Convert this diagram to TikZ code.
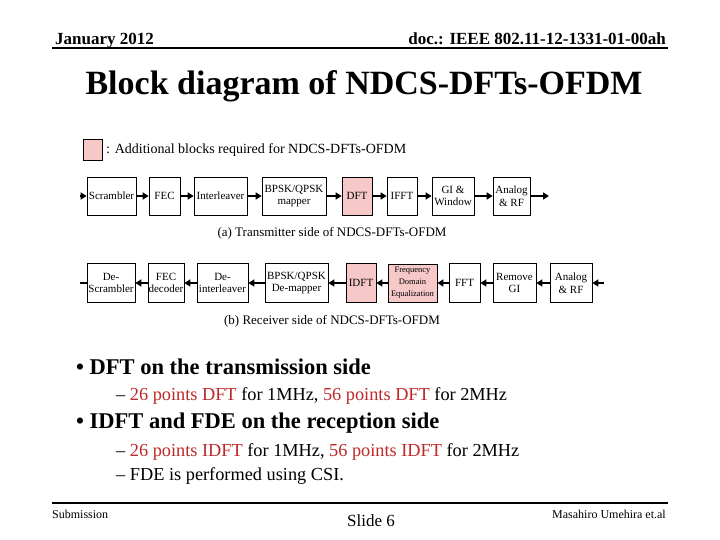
\documentclass[tikz,border=0pt]{standalone}
\usepackage{fontspec}
\setmainfont{Liberation Serif}
\usetikzlibrary{arrows.meta}
\definecolor{pk}{RGB}{246,200,200}
\definecolor{rd}{RGB}{190,40,40}
\begin{document}
\begin{tikzpicture}[x=1pt,y=-1pt,
 blk/.style={draw,line width=0.7pt,inner sep=0pt,align=center,font=\fontsize{11}{12.5}\selectfont},
 pkb/.style={blk,fill=pk},
 ar/.style={line width=1.8pt,-{Triangle[length=6pt,width=7pt]}},
 ln/.style={line width=1.8pt}]
\useasboundingbox (0,0) rectangle (720,540);
\fill[white] (0,0) rectangle (720,540);
\node[anchor=base west,inner sep=0pt,font=\bfseries\fontsize{17}{18}\selectfont] (hl) at (55,45) {January 2012};
\node[anchor=base east,inner sep=0pt,font=\bfseries\fontsize{17}{18}\selectfont] (hr) at (666,45) {doc.: IEEE 802.11-12-1331-01-00ah};
\draw[line width=1.5pt] (52,48) -- (668,48);
\node[font=\bfseries\fontsize{34}{38}\selectfont] (title) at (364,86) {Block diagram of NDCS-DFTs-OFDM};
% legend
\node[pkb,minimum width=19pt,minimum height=21pt] (leg) at (92.5,149.5) {};
\node[anchor=west,font=\fontsize{14}{15}\selectfont,inner sep=0pt] (legt) at (106,150) {: Additional blocks required for NDCS-DFTs-OFDM};
% transmitter
\def\bx#1#2#3#4#5{\node[#2,minimum width=#4-#3,minimum height=38] (#1) at ({(#3+#4)/2},196) {#5};}
\coordinate (tin) at (80,196);
\bx{s}{blk}{87}{136}{Scrambler}
\bx{f}{blk}{149}{180}{FEC}
\bx{i}{blk}{194}{247}{Interleaver}
\bx{m}{blk}{262}{326}{BPSK/QPSK\\mapper}
\bx{d}{pkb}{342}{372}{DFT}
\bx{ff}{blk}{387}{417}{IFFT}
\bx{g}{blk}{432}{474}{GI \&\\Window}
\bx{a}{blk}{493}{530}{Analog\\\& RF}
\coordinate (tout) at (549,196);
\draw[ar] (tin)--(s); \draw[ar] (s)--(f); \draw[ar] (f)--(i); \draw[ar] (i)--(m);
\draw[ar] (m)--(d); \draw[ar] (d)--(ff); \draw[ar] (ff)--(g); \draw[ar] (g)--(a); \draw[ar] (a)--(tout);
\node[font=\fontsize{13}{14}\selectfont] (ca) at (332,233) {(a) Transmitter side of NDCS-DFTs-OFDM};
% receiver
\def\rx#1#2#3#4#5{\node[#2,minimum width=#4-#3,minimum height=39] (#1) at ({(#3+#4)/2},283) {#5};}
\coordinate (rout) at (80,283);
\rx{rs}{blk}{87}{135}{De-\\Scrambler}
\rx{rf}{blk}{148}{184}{FEC\\decoder}
\rx{ri}{blk}{197}{248}{De-\\interleaver}
\rx{rm}{blk}{265}{328}{BPSK/QPSK\\De-mapper}
\rx{rd}{pkb}{346}{376}{IDFT}
\node[pkb,minimum width=49,minimum height=38,font=\fontsize{8.5}{12}\selectfont] (re) at (412.5,283) {Frequency\\Domain\\Equalization};
\rx{rff}{blk}{449}{480}{FFT}
\rx{rg}{blk}{493}{536}{Remove\\GI}
\rx{ra}{blk}{550}{592}{Analog\\\& RF}
\coordinate (rin) at (604,283);
\draw[ar] (rin)--(ra); \draw[ar] (ra)--(rg); \draw[ar] (rg)--(rff); \draw[ar] (rff)--(re);
\draw[ar] (re)--(rd); \draw[ar] (rd)--(rm); \draw[ar] (rm)--(ri); \draw[ar] (ri)--(rf); \draw[ar] (rf)--(rs);
\draw[ln] (rs)--(rout);
\node[font=\fontsize{13}{14}\selectfont] (cb) at (332,321) {(b) Receiver side of NDCS-DFTs-OFDM};
% bullets
\node[anchor=base west,inner sep=0pt,font=\bfseries\fontsize{22.5}{24}\selectfont] (b1) at (76,374) {\textbullet\ DFT on the transmission side};
\node[anchor=base west,inner sep=0pt,font=\fontsize{18.3}{20}\selectfont] (b2) at (116,400) {– \textcolor{rd}{26 points DFT} for 1MHz, \textcolor{rd}{56 points DFT} for 2MHz};
\node[anchor=base west,inner sep=0pt,font=\bfseries\fontsize{22.5}{24}\selectfont] (b3) at (76,428) {\textbullet\ IDFT and FDE on the reception side};
\node[anchor=base west,inner sep=0pt,font=\fontsize{18.3}{20}\selectfont] (b4) at (116,456) {– \textcolor{rd}{26 points IDFT} for 1MHz, \textcolor{rd}{56 points IDFT} for 2MHz};
\node[anchor=base west,inner sep=0pt,font=\fontsize{18.3}{20}\selectfont] (b5) at (116,480) {– FDE is performed using CSI.};
% footer
\draw[line width=1.5pt] (52,503) -- (668,503);
\node[anchor=base west,inner sep=0pt,font=\fontsize{12}{14}\selectfont] (fl) at (52,518) {Submission};
\node[anchor=base,inner sep=0pt,font=\fontsize{17}{20}\selectfont] (fc) at (371,526) {Slide 6};
\node[anchor=base east,inner sep=0pt,font=\fontsize{12}{14}\selectfont] (fr) at (666,518) {Masahiro Umehira et.al};
\end{tikzpicture}
\end{document}
